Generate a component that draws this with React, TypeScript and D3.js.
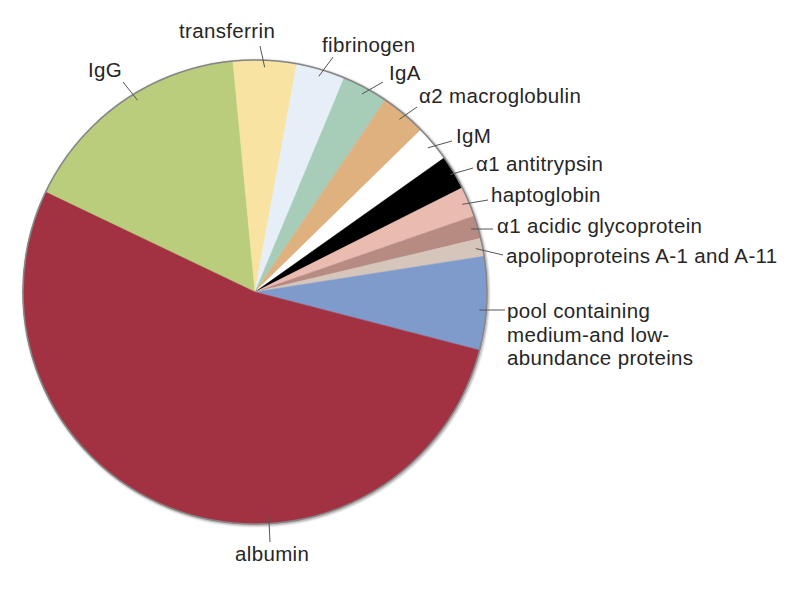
import React from "react";
import * as d3 from "d3";

const labels = [
  "IgG",
  "transferrin",
  "fibrinogen",
  "IgA",
  "α2 macroglobulin",
  "IgM",
  "α1 antitrypsin",
  "haptoglobin",
  "α1 acidic glycoprotein",
  "apolipoproteins A-1 and A-11",
  "pool containing\nmedium-and low-\nabundance proteins",
  "albumin",
];
const values = [16.4, 4.4, 3.4, 3.2, 3.2, 2.5, 2.4, 2.1, 1.6, 1.25, 6.5, 53.05];
const colors = [
  "#b9cd7c",
  "#f8e3a2",
  "#e6eef8",
  "#a7cdb9",
  "#dfb17f",
  "#ffffff",
  "#000000",
  "#e9bbb1",
  "#b68b82",
  "#d5c5ba",
  "#7f9bcb",
  "#a23242",
];

// layout: text anchor (x, baseline y), leader outer end, optional leader angle (deg)
const labelLayout: { tx: number; ty: number; lx: number; ly: number; ang?: number; r?: number }[] = [
  { tx: 88, ty: 77, lx: 123, ly: 82, ang: -31.5 },
  { tx: 179, ty: 38, lx: 260, ly: 46 },
  { tx: 322, ty: 52, lx: 333, ly: 57 },
  { tx: 389, ty: 80, lx: 383, ly: 82 },
  { tx: 419, ty: 103, lx: 417, ly: 107 },
  { tx: 456, ty: 143, lx: 452, ly: 141 },
  { tx: 476, ty: 171, lx: 473, ly: 168, r: 228 },
  { tx: 491, ty: 202, lx: 488, ly: 200 },
  { tx: 497, ty: 233, lx: 493, ly: 229 },
  { tx: 506, ty: 263, lx: 503, ly: 255 },
  { tx: 507, ty: 318, lx: 505, ly: 310, ang: 94.6 },
  { tx: 235, ty: 561, lx: 270, ly: 542, ang: 176.5 },
];

const W = 800;
const H = 590;
const cx = 255;
const cy = 292;
const R = 232;
const startDeg = -64.5;

export default function App() {
  const pie = d3
    .pie<number>()
    .sort(null)
    .value((d) => d)
    .startAngle((startDeg * Math.PI) / 180)
    .endAngle((startDeg * Math.PI) / 180 + 2 * Math.PI);
  const arcs = pie(values);
  const arc = d3.arc<d3.PieArcDatum<number>>().innerRadius(0).outerRadius(R);

  return (
    <svg
      width={W}
      height={H}
      style={{ position: "absolute", left: 0, top: 0, background: "#fff" }}
      fontFamily="'Liberation Sans', Arial, Helvetica, sans-serif"
    >
      <defs>
        <filter id="sh" x="-10%" y="-10%" width="120%" height="120%">
          <feGaussianBlur stdDeviation="1" />
        </filter>
      </defs>
      <circle cx={cx + 1} cy={cy + 1} r={R} fill="none" stroke="#999" strokeWidth={2} filter="url(#sh)" />
      <g transform={`translate(${cx},${cy})`}>
        {arcs.map((a, i) => (
          <path key={i} d={arc(a) || ""} fill={colors[i]} stroke={colors[i]} strokeWidth={0.5} />
        ))}
        <circle r={R} fill="none" stroke="#858585" strokeWidth={1.5} />
      </g>
      {arcs.map((a, i) => {
        const L = labelLayout[i];
        const mid = L.ang !== undefined ? (L.ang * Math.PI) / 180 : (a.startAngle + a.endAngle) / 2;
        const rr = L.r ?? R - 7;
        const ix = cx + rr * Math.sin(mid);
        const iy = cy - rr * Math.cos(mid);
        const lines = labels[i].split("\n");
        return (
          <g key={"l" + i}>
            <line x1={ix} y1={iy} x2={L.lx} y2={L.ly} stroke="#555" strokeWidth={1} />
            <text x={L.tx} y={L.ty} fontSize={20.5} letterSpacing={0.35} fill="#262626">
              {lines.map((t, j) => (
                <tspan key={j} x={L.tx} dy={j === 0 ? 0 : 23.5}>
                  {t}
                </tspan>
              ))}
            </text>
          </g>
        );
      })}
    </svg>
  );
}
